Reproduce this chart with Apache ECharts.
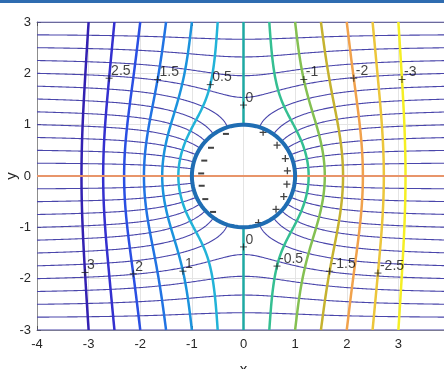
<!DOCTYPE html>
<html>
<head>
<meta charset="utf-8">
<script src="https://cdn.jsdelivr.net/npm/echarts@6/dist/echarts.min.js"></script>
<style>
  html, body { margin: 0; padding: 0; background: #ffffff; }
  #chart { width: 444px; height: 369px; }
</style>
</head>
<body>
<div id="chart"></div>
<script>
// Conducting cylinder in a uniform field: equipotentials (coloured) and field lines (thin)
const xRange = [-4, 4];
const yRange = [-3, 3];
const axisInterval = 1;
const cylinderRadius = 1;

// equipotential levels and their colours
const potentialLevels = [3, 2.5, 2, 1.5, 1, 0.5, 0, -0.5, -1, -1.5, -2, -2.5, -3];
const potentialColors = ['#3321b2', '#3430cf', '#2a4fe3', '#2173e3', '#1b93dd', '#22b3d8', '#1ea9a3',
                         '#35bf92', '#84c052', '#c5b22f', '#f1a24c', '#ecc63b', '#f5ef24'];

// field line levels (stream function values on the outer boundary)
const fieldLineLevels = [-3, -2.75, -2.5, -2.25, -2, -1.75, -1.5, -1.25, -1, -0.75, -0.5, -0.25, 0,
                         0.25, 0.5, 0.75, 1, 1.25, 1.5, 1.75, 2, 2.25, 2.5, 2.75, 3];

// contour labels: level and approximate location on that contour
const labelLevels = [2.5, 1.5, 0.5, 0, -1, -2, -3, 3, 2, 1, 0, -0.5, -1.5, -2.5];
const labelX = [-2.62, -1.60, -0.60, 0, 1.11, 2.08, 3.05, -3.07, -2.10, -1.11, 0, 0.60, 1.61, 2.58];
const labelY = [1.90, 1.86, 1.76, 1.39, 1.86, 1.90, 1.89, -1.89, -1.89, -1.84, -1.37, -1.74, -1.84, -1.89];

// induced surface charges
const plusCharges = [[0.38, 0.85], [0.65, 0.60], [0.81, 0.34], [0.85, 0.10], [0.84, -0.16],
                     [0.78, -0.40], [0.63, -0.65], [0.29, -0.91]];
const minusCharges = [[-0.34, 0.82], [-0.63, 0.55], [-0.76, 0.30], [-0.82, 0.05], [-0.81, -0.19],
                      [-0.74, -0.45], [-0.59, -0.70], [-0.25, -0.96]];

// horizontal reference line through the cylinder centre
const axisLineY = 0;

// ---------- finite-difference grid ----------
const NX = 322, NY = 242;           // even counts: no node sits on x = 0 or y = 0
const hx = (xRange[1] - xRange[0]) / (NX - 1);
const hy = (yRange[1] - yRange[0]) / (NY - 1);
const N = NX * NY;
const gx = new Float64Array(NX), gy = new Float64Array(NY);
for (let i = 0; i < NX; i++) gx[i] = xRange[0] + i * hx;
for (let j = 0; j < NY; j++) gy[j] = yRange[0] + j * hy;
const R2 = cylinderRadius * cylinderRadius;
const inside = new Uint8Array(N);
for (let j = 0; j < NY; j++) for (let i = 0; i < NX; i++) {
  inside[j * NX + i] = (gx[i] * gx[i] + gy[j] * gy[j] < R2) ? 1 : 0;
}
function isWall(i, j) { return i === 0 || j === 0 || i === NX - 1 || j === NY - 1; }

// Laplace solver; mode 'dirichlet' -> value 0 on the cylinder (curved-boundary stencil),
// mode 'neumann' -> zero normal flux on the cylinder
function solve(wallValue, guess, mode) {
  const u = new Float64Array(N);
  const idx = [], wE = [], wW = [], wN = [], wS = [], iE = [], iW = [], iN = [], iS = [], dg = [];
  for (let j = 0; j < NY; j++) for (let i = 0; i < NX; i++) {
    const k = j * NX + i, x = gx[i], y = gy[j];
    if (isWall(i, j)) { u[k] = wallValue(x, y); continue; }
    if (inside[k]) { u[k] = 0; continue; }
    u[k] = guess(x, y);
    let dE = hx, dW = hx, dN = hy, dS = hy;
    let kE = k + 1, kW = k - 1, kN = k + NX, kS = k - NX;
    const inE = inside[kE], inW = inside[kW], inN = inside[kN], inS = inside[kS];
    if (mode === 'dirichlet') {
      if (inE) { dE = Math.max(-Math.sqrt(R2 - y * y) - x, 1e-4); kE = -1; }
      if (inW) { dW = Math.max(x - Math.sqrt(R2 - y * y), 1e-4); kW = -1; }
      if (inN) { dN = Math.max(-Math.sqrt(R2 - x * x) - y, 1e-4); kN = -1; }
      if (inS) { dS = Math.max(y - Math.sqrt(R2 - x * x), 1e-4); kS = -1; }
      const ax = 2 / (dE + dW), ay = 2 / (dN + dS);
      const a = ax / dE, b = ax / dW, c = ay / dN, d = ay / dS;
      idx.push(k); wE.push(a); wW.push(b); wN.push(c); wS.push(d);
      iE.push(kE); iW.push(kW); iN.push(kN); iS.push(kS); dg.push(a + b + c + d);
    } else {
      const cx = 1 / (hx * hx), cy = 1 / (hy * hy);
      const a = inE ? 0 : cx, b = inW ? 0 : cx, c = inN ? 0 : cy, d = inS ? 0 : cy;
      idx.push(k); wE.push(a); wW.push(b); wN.push(c); wS.push(d);
      iE.push(inE ? -1 : kE); iW.push(inW ? -1 : kW); iN.push(inN ? -1 : kN); iS.push(inS ? -1 : kS);
      dg.push(a + b + c + d);
    }
  }
  const M = idx.length;
  const I = Int32Array.from(idx), AE = Float64Array.from(wE), AW = Float64Array.from(wW),
        AN = Float64Array.from(wN), AS = Float64Array.from(wS),
        KE = Int32Array.from(iE), KW = Int32Array.from(iW), KN = Int32Array.from(iN), KS = Int32Array.from(iS),
        D = Float64Array.from(dg);
  const omega = 1.965;
  for (let it = 0; it < 3000; it++) {
    let maxd = 0;
    for (let m = 0; m < M; m++) {
      let s = 0;
      if (KE[m] >= 0) s += AE[m] * u[KE[m]];
      if (KW[m] >= 0) s += AW[m] * u[KW[m]];
      if (KN[m] >= 0) s += AN[m] * u[KN[m]];
      if (KS[m] >= 0) s += AS[m] * u[KS[m]];
      const k = I[m];
      const d = s / D[m] - u[k];
      u[k] += omega * d;
      const ad = d < 0 ? -d : d;
      if (ad > maxd) maxd = ad;
    }
    if (maxd < 1e-8) break;
  }
  for (let k = 0; k < N; k++) if (inside[k]) u[k] = NaN;
  return u;
}

const potential = solve(
  (x, y) => -x,
  (x, y) => -x * (1 - R2 / (x * x + y * y)),
  'dirichlet');
const stream = solve(
  (x, y) => y,
  (x, y) => y * (1 + R2 / (x * x + y * y)),
  'neumann');

// ---------- marching squares with segment chaining ----------
function contour(F, level) {
  const pts = new Map();
  const segs = [];
  function ep(id, k1, k2, x1, y1, x2, y2) {
    if (!pts.has(id)) {
      const t = (level - F[k1]) / (F[k2] - F[k1]);
      pts.set(id, [x1 + t * (x2 - x1), y1 + t * (y2 - y1)]);
    }
    return id;
  }
  for (let j = 0; j < NY - 1; j++) for (let i = 0; i < NX - 1; i++) {
    const ka = j * NX + i, kb = ka + 1, kd = ka + NX, kc = kd + 1;
    const fa = F[ka], fb = F[kb], fc = F[kc], fd = F[kd];
    if (fa !== fa || fb !== fb || fc !== fc || fd !== fd) continue;
    const sa = fa > level, sb = fb > level, sc = fc > level, sd = fd > level;
    const e = [];
    if (sa !== sb) e.push(ep(2 * ka, ka, kb, gx[i], gy[j], gx[i + 1], gy[j]));
    if (sb !== sc) e.push(ep(2 * kb + 1, kb, kc, gx[i + 1], gy[j], gx[i + 1], gy[j + 1]));
    if (sd !== sc) e.push(ep(2 * kd, kd, kc, gx[i], gy[j + 1], gx[i + 1], gy[j + 1]));
    if (sa !== sd) e.push(ep(2 * ka + 1, ka, kd, gx[i], gy[j], gx[i], gy[j + 1]));
    if (e.length === 2) segs.push(e);
    else if (e.length === 4) {
      const center = (fa + fb + fc + fd) / 4 > level;
      if (center === sa) { segs.push([e[0], e[1]]); segs.push([e[2], e[3]]); }
      else { segs.push([e[3], e[0]]); segs.push([e[1], e[2]]); }
    }
  }
  const adj = new Map();
  segs.forEach((s, n) => s.forEach(id => { if (!adj.has(id)) adj.set(id, []); adj.get(id).push(n); }));
  const used = new Uint8Array(segs.length);
  const lines = [];
  function walk(start, edge) {
    const line = [pts.get(edge)];
    let n = start;
    while (n !== -1 && !used[n]) {
      used[n] = 1;
      const s = segs[n];
      const next = s[0] === edge ? s[1] : s[0];
      line.push(pts.get(next));
      edge = next;
      n = -1;
      for (const c of adj.get(next)) if (!used[c]) { n = c; break; }
    }
    return line;
  }
  for (const [id, list] of adj) if (list.length === 1 && !used[list[0]]) lines.push(walk(list[0], id));
  for (let s = 0; s < segs.length; s++) if (!used[s]) lines.push(walk(s, segs[s][0]));
  return lines;
}

// levels lying exactly on the outer boundary are nudged inward by a hair
function innerLevel(v, lo, hi) {
  if (v >= hi) return hi - 1e-9;
  if (v <= lo) return lo + 1e-9;
  return v;
}

const potentialLines = potentialLevels.map(v => contour(potential, v));
const fieldLines = fieldLineLevels.map(v => contour(stream, innerLevel(v, yRange[0], yRange[1])));

// label anchors snapped onto their contour
const labelData = labelLevels.map((v, n) => {
  const lines = potentialLines[potentialLevels.indexOf(v)];
  let best = [labelX[n], labelY[n]], bd = Infinity;
  lines.forEach(l => l.forEach(p => {
    const d = (p[0] - labelX[n]) ** 2 + (p[1] - labelY[n]) ** 2;
    if (d < bd) { bd = d; best = p; }
  }));
  return { value: best, label: { formatter: String(v) } };
});

// cylinder outline
const circleData = [];
for (let a = 0; a <= 360; a += 2) {
  const t = a * Math.PI / 180;
  circleData.push([cylinderRadius * Math.cos(t), cylinderRadius * Math.sin(t)]);
}

const fieldLineData = [];
fieldLines.forEach(ls => ls.forEach(l => { if (l.length > 1) fieldLineData.push({ coords: l }); }));
const potentialData = [];
potentialLines.forEach((ls, n) => ls.forEach(l => {
  if (l.length > 1) potentialData.push({ coords: l, lineStyle: { color: potentialColors[n] } });
}));

const FONT = '"Liberation Sans", Arial, Helvetica, sans-serif';
const chart = echarts.init(document.getElementById('chart'), null, { renderer: 'canvas' });
chart.setOption({
  animation: false,
  backgroundColor: '#ffffff',
  graphic: [{
    type: 'rect', shape: { x: 0, y: 0, width: 444, height: 3 },
    style: { fill: '#2f6cb0' }, silent: true
  }],
  grid: { left: 37, top: 22, width: 413, height: 308, outerBoundsMode: 'none', containLabel: false },
  xAxis: [{
    type: 'value', min: xRange[0], max: xRange[1], interval: axisInterval,
    name: 'x', nameLocation: 'middle', nameGap: 32, nameMoveOverlap: false,
    nameTextStyle: { fontFamily: FONT, fontSize: 15, color: '#262626' },
    axisLine: { show: true, onZero: false, lineStyle: { color: '#8c8c8c', width: 1 } },
    axisTick: { show: true, inside: true, length: 4, lineStyle: { color: '#555555' } },
    axisLabel: { fontFamily: FONT, fontSize: 13, color: '#262626', margin: 8 },
    splitLine: { show: true, lineStyle: { color: '#e4e4e4', width: 1 } }
  }, {
    type: 'value', position: 'top', min: xRange[0], max: xRange[1], interval: axisInterval,
    axisLine: { show: true, onZero: false, lineStyle: { color: '#8c8c8c', width: 1 } },
    axisTick: { show: true, inside: true, length: 4, lineStyle: { color: '#555555' } },
    axisLabel: { show: false }, splitLine: { show: false }
  }],
  yAxis: {
    type: 'value', min: yRange[0], max: yRange[1], interval: axisInterval,
    name: 'y', nameLocation: 'middle', nameGap: 18, nameRotate: 90, nameMoveOverlap: false,
    nameTextStyle: { fontFamily: FONT, fontSize: 15, color: '#262626' },
    axisLine: { show: true, onZero: false, lineStyle: { color: '#8c8c8c', width: 1 } },
    axisTick: { show: true, inside: true, length: 4, lineStyle: { color: '#555555' } },
    axisLabel: { fontFamily: FONT, fontSize: 13, color: '#262626', margin: 6 },
    splitLine: { show: true, lineStyle: { color: '#e4e4e4', width: 1 } }
  },
  series: [
    {
      name: 'field lines', type: 'lines', coordinateSystem: 'cartesian2d', polyline: true,
      xAxisIndex: 0, yAxisIndex: 0, silent: true,
      lineStyle: { color: '#4a46ab', width: 1.1, opacity: 1 },
      data: fieldLineData
    },
    {
      name: 'equipotentials', type: 'lines', coordinateSystem: 'cartesian2d', polyline: true,
      xAxisIndex: 0, yAxisIndex: 0, silent: true,
      lineStyle: { width: 2.5, opacity: 1 },
      data: potentialData
    },
    {
      name: 'axis line', type: 'line', showSymbol: false, silent: true,
      lineStyle: { color: '#e8956a', width: 2.2 },
      data: [[xRange[0], axisLineY], [xRange[1], axisLineY]]
    },
    {
      name: 'cylinder', type: 'line', showSymbol: false, silent: true, smooth: false,
      lineStyle: { color: '#1f6db3', width: 4 },
      data: circleData
    },
    {
      name: 'positive charge', type: 'scatter', silent: true,
      symbol: 'path://M0,5L10,5M5,0L5,10', symbolSize: 7,
      itemStyle: { color: 'rgba(0,0,0,0)', borderColor: '#111111', borderWidth: 1.3 },
      data: plusCharges
    },
    {
      name: 'negative charge', type: 'scatter', silent: true,
      symbol: 'rect', symbolSize: [6, 2],
      itemStyle: { color: '#111111' },
      data: minusCharges
    },
    {
      name: 'contour labels', type: 'scatter', silent: true,
      symbol: 'path://M0,5L10,5M5,0L5,10', symbolSize: 7,
      itemStyle: { color: 'rgba(0,0,0,0)', borderColor: '#222222', borderWidth: 1 },
      label: {
        show: true, position: 'right', distance: 0, offset: [-2, -7],
        fontFamily: FONT, fontSize: 14, color: '#111111'
      },
      data: labelData
    }
  ]
});
</script>
</body>
</html>
